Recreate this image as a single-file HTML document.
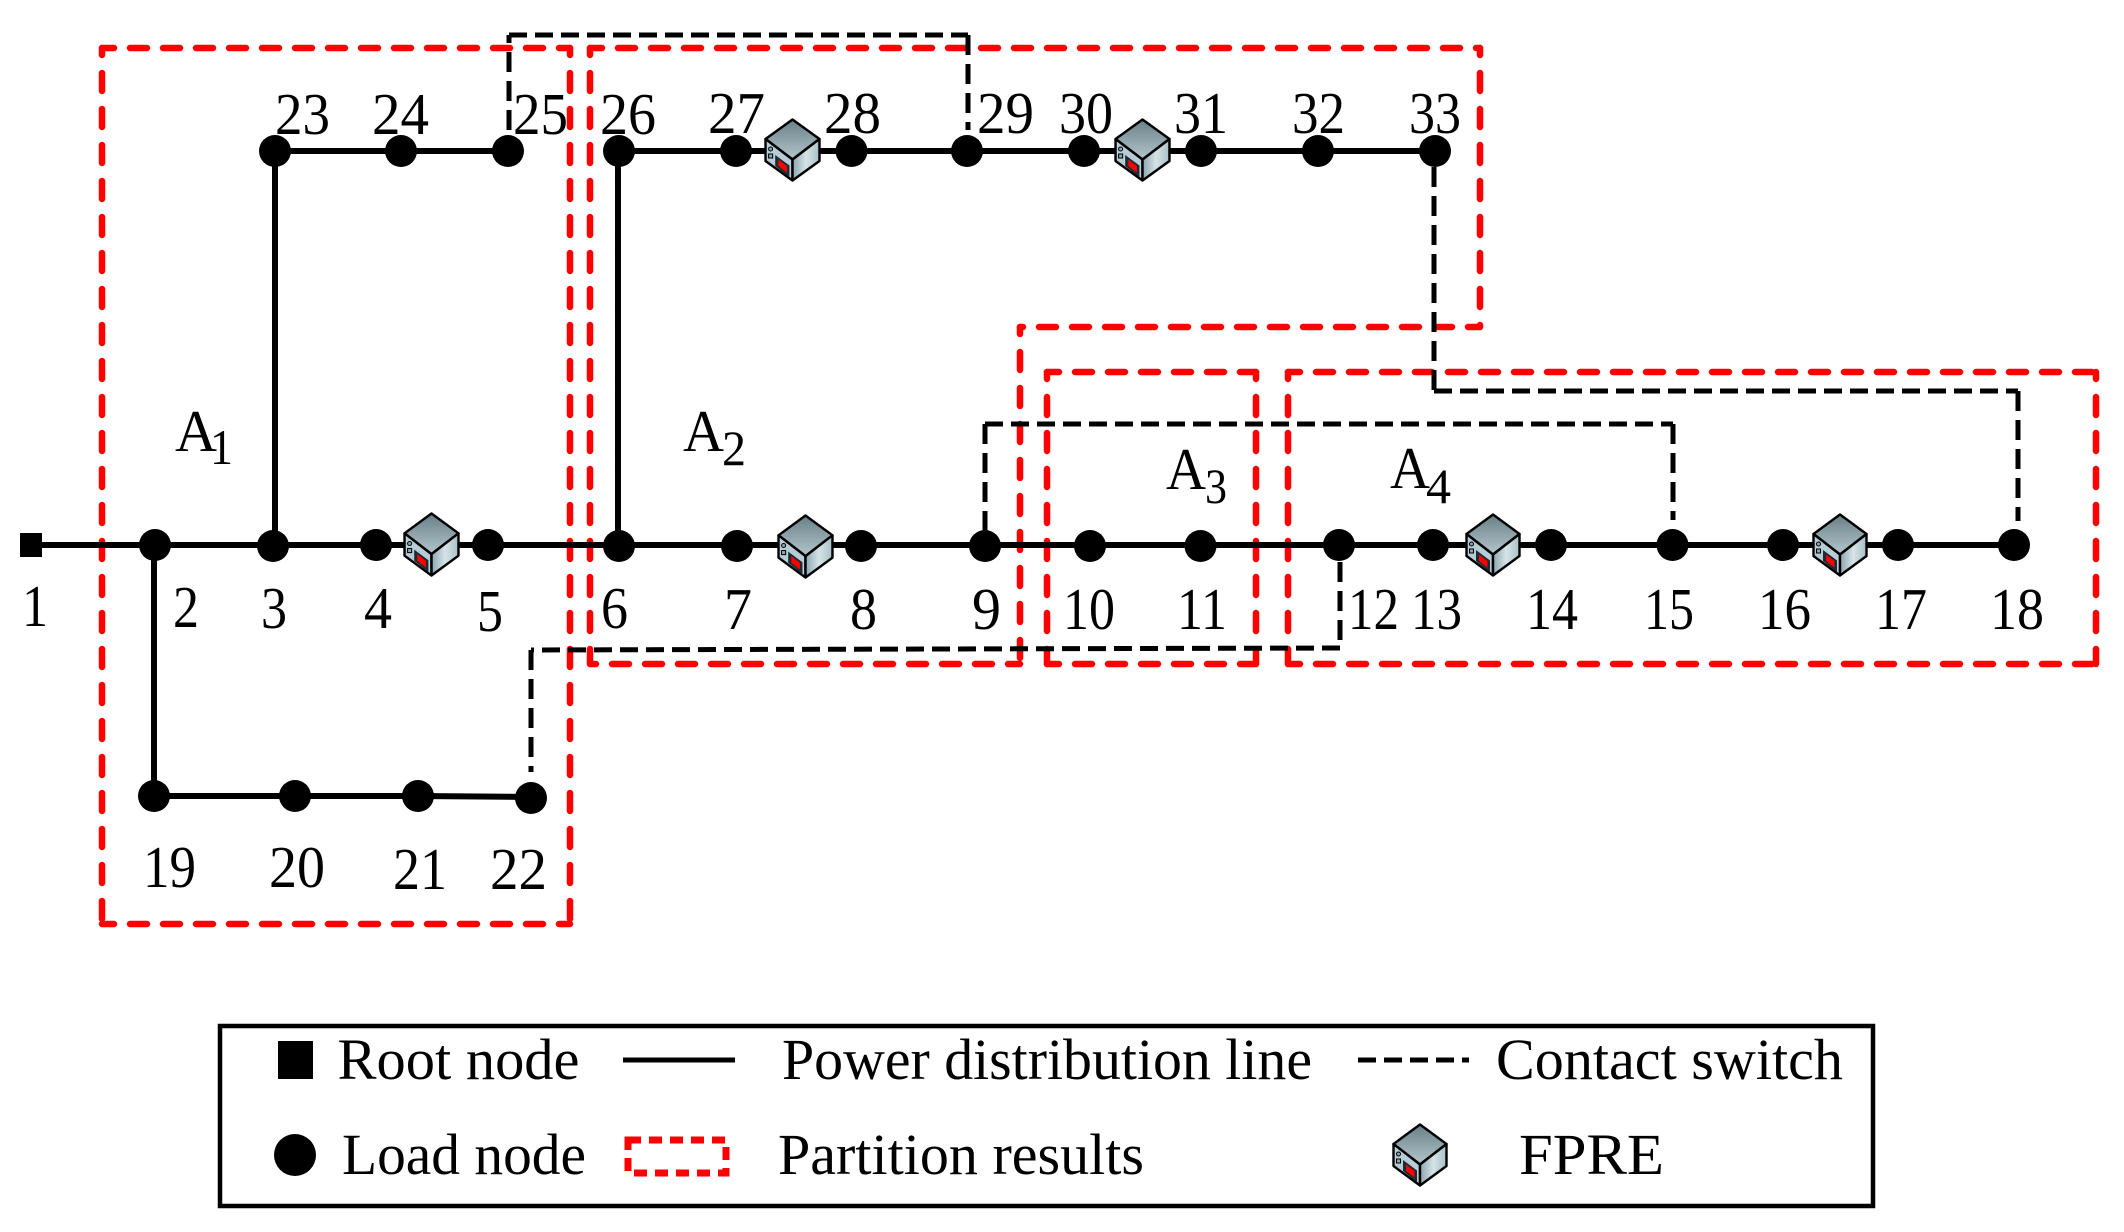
<!DOCTYPE html>
<html><head><meta charset="utf-8"><style>
html,body{margin:0;padding:0;background:#fff}
svg{display:block}
text{font-family:"Liberation Serif",serif;font-size:59px;fill:#000}
.s{font-size:50px}
.l{font-size:58px}
.r{stroke:#f00;stroke-width:6.500;fill:none;stroke-linecap:round}
.h{stroke-dasharray:17 16;stroke-dashoffset:5}
.v{stroke-dasharray:18 18;stroke-dashoffset:11}
.b{stroke:#000;stroke-width:5;fill:none;stroke-dasharray:18 8}
.bv{stroke:#000;stroke-width:5;fill:none;stroke-dasharray:20 9}
.m{stroke:#000;stroke-width:6;fill:none}
</style></head><body>
<svg width="2124" height="1232" viewBox="0 0 2124 1232" xmlns="http://www.w3.org/2000/svg">
<defs>
<linearGradient id="gt" x1="0" y1="0" x2="0" y2="1"><stop offset="0" stop-color="#687f87"/><stop offset="1" stop-color="#b4c6cc"/></linearGradient>
<linearGradient id="gr" x1="0" y1="0" x2="1" y2="0"><stop offset="0" stop-color="#8ba6b0"/><stop offset=".5" stop-color="#d6e3e6"/><stop offset="1" stop-color="#a8c0c8"/></linearGradient>
<symbol id="f" viewBox="0 0 56 64" preserveAspectRatio="none">
<path d="M28 1.500L54.500 21L28 41.500L1.500 21Z" fill="url(#gt)" stroke="#000" stroke-width="2.400" stroke-linejoin="round"/>
<path d="M1.500 21L28 41.500V62.500L1.500 43Z" fill="#b6cdd8" stroke="#000" stroke-width="2.400" stroke-linejoin="round"/>
<path d="M54.500 21L28 41.500V62.500L54.500 43Z" fill="url(#gr)" stroke="#000" stroke-width="2.400" stroke-linejoin="round"/>
<path d="M11 37L25 47.500V59L11 48Z" fill="#1d2b33"/>
<path d="M14 41.500L22.500 48V54.500L14 48Z" fill="#f00"/>
<circle cx="6.500" cy="31" r="2" fill="#8aa" stroke="#000"/>
<rect x="4.500" y="36" width="4" height="4" fill="#8aa" stroke="#000"/>
</symbol>
</defs>

<!-- red partitions -->
<g class="r">
<path class="h" d="M102 48H570"/><path class="v" d="M102 48V924"/><path class="h" d="M102 924H570"/><path class="v" d="M570 48V924"/>
<path class="h" d="M590 48H1480"/><path class="v" d="M1480 48V327"/><path class="h" d="M1480 327H1020"/><path class="v" d="M1020 327V664"/><path class="h" d="M1020 664H590"/><path class="v" d="M590 48V664"/>
<path class="h" d="M1047 372H1256"/><path class="v" d="M1047 372V664"/><path class="h" d="M1047 664H1256"/><path class="v" d="M1256 372V664"/>
<path class="h" d="M1288 372H2096"/><path class="v" d="M1288 372V664"/><path class="h" d="M1288 664H2096"/><path class="v" d="M2096 372V664"/>
</g>

<!-- contact switches -->
<path class="bv" d="M509 130V35"/><path class="b" d="M509 35H968"/><path class="bv" d="M968 35V130"/>
<path class="bv" d="M1434 167V391"/><path class="b" d="M1434 391H2018"/><path class="bv" d="M2018 391V521"/>
<path class="bv" d="M985 531V424"/><path class="b" d="M985 424H1673"/><path class="bv" d="M1673 424V520"/>
<path class="bv" d="M1340 562V648"/><path class="b" d="M1340 648L531 650"/><path class="bv" d="M531 650V772"/>

<!-- power lines -->
<path class="m" d="M31 545H2014"/>
<path class="m" d="M275 151H508"/>
<path class="m" d="M619 151H1435"/>
<path class="m" d="M275 151V545"/>
<path class="m" d="M618 151V545"/>
<path class="m" d="M154 545V796H418L531 797"/>

<!-- root -->
<rect x="20" y="533" width="22" height="24"/>

<!-- nodes -->
<g fill="#000">
<circle cx="275" cy="151" r="16"/><circle cx="401" cy="151" r="16"/><circle cx="508" cy="151" r="16"/><circle cx="619" cy="151" r="16"/>
<circle cx="736" cy="151" r="16"/><circle cx="851.500" cy="151" r="16"/><circle cx="967" cy="151" r="16"/><circle cx="1084" cy="151" r="16"/>
<circle cx="1201" cy="151" r="16"/><circle cx="1318" cy="151" r="16"/><circle cx="1435" cy="151" r="16"/>
<circle cx="155" cy="545" r="16"/><circle cx="273" cy="546" r="16"/><circle cx="376" cy="545" r="16"/><circle cx="488" cy="545" r="16"/><circle cx="619" cy="546" r="16"/>
<circle cx="737" cy="546" r="16"/><circle cx="861" cy="546" r="16"/><circle cx="985" cy="546" r="16"/><circle cx="1090" cy="546" r="16"/><circle cx="1200.500" cy="546" r="16"/>
<circle cx="1339" cy="545" r="16"/><circle cx="1433" cy="545" r="16"/><circle cx="1551" cy="545" r="16"/><circle cx="1672.500" cy="545" r="16"/><circle cx="1783" cy="545" r="16"/><circle cx="1898" cy="545" r="16"/><circle cx="2014" cy="545" r="16"/>
<circle cx="154" cy="796" r="16"/><circle cx="295" cy="796" r="16"/><circle cx="418" cy="796" r="16"/><circle cx="531" cy="798" r="16"/>
</g>

<!-- FPRE devices -->
<use href="#f" x="403" y="512" width="57" height="65"/>
<use href="#f" x="764" y="118" width="57" height="64"/>
<use href="#f" x="1114" y="118" width="57" height="64"/>
<use href="#f" x="777" y="514" width="57" height="65"/>
<use href="#f" x="1465" y="513" width="56" height="64"/>
<use href="#f" x="1812" y="513" width="56" height="64"/>
<use href="#f" x="1392" y="1123" width="56" height="64"/>

<!-- top labels -->
<text x="275" y="134" textLength="55" lengthAdjust="spacingAndGlyphs">23</text>
<text x="372" y="134" textLength="57" lengthAdjust="spacingAndGlyphs">24</text>
<text x="513" y="134" textLength="55" lengthAdjust="spacingAndGlyphs">25</text>
<text x="600" y="134" textLength="56" lengthAdjust="spacingAndGlyphs">26</text>
<text x="708" y="133" textLength="57" lengthAdjust="spacingAndGlyphs">27</text>
<text x="824" y="133" textLength="57" lengthAdjust="spacingAndGlyphs">28</text>
<text x="977" y="133" textLength="57" lengthAdjust="spacingAndGlyphs">29</text>
<text x="1059" y="133" textLength="54" lengthAdjust="spacingAndGlyphs">30</text>
<text x="1174" y="133" textLength="54" lengthAdjust="spacingAndGlyphs">31</text>
<text x="1292" y="133" textLength="53" lengthAdjust="spacingAndGlyphs">32</text>
<text x="1409" y="133" textLength="52" lengthAdjust="spacingAndGlyphs">33</text>

<!-- area labels -->
<text x="175" y="451" textLength="42" lengthAdjust="spacingAndGlyphs">A</text><text class="s" x="210" y="464" textLength="23" lengthAdjust="spacingAndGlyphs">1</text>
<text x="683" y="451" textLength="41" lengthAdjust="spacingAndGlyphs">A</text><text class="s" x="722" y="465" textLength="24" lengthAdjust="spacingAndGlyphs">2</text>
<text x="1166" y="489" textLength="40" lengthAdjust="spacingAndGlyphs">A</text><text class="s" x="1205" y="503" textLength="22" lengthAdjust="spacingAndGlyphs">3</text>
<text x="1390" y="488" textLength="40" lengthAdjust="spacingAndGlyphs">A</text><text class="s" x="1426" y="503" textLength="25" lengthAdjust="spacingAndGlyphs">4</text>

<!-- bottom labels -->
<text x="22" y="626" textLength="26" lengthAdjust="spacingAndGlyphs">1</text>
<text x="173" y="627" textLength="26" lengthAdjust="spacingAndGlyphs">2</text>
<text x="261" y="628" textLength="26" lengthAdjust="spacingAndGlyphs">3</text>
<text x="364" y="628" textLength="28" lengthAdjust="spacingAndGlyphs">4</text>
<text x="477" y="631" textLength="26" lengthAdjust="spacingAndGlyphs">5</text>
<text x="601" y="628" textLength="27" lengthAdjust="spacingAndGlyphs">6</text>
<text x="724" y="629" textLength="28" lengthAdjust="spacingAndGlyphs">7</text>
<text x="850" y="629" textLength="27" lengthAdjust="spacingAndGlyphs">8</text>
<text x="972" y="629" textLength="29" lengthAdjust="spacingAndGlyphs">9</text>
<text x="1063" y="629" textLength="52" lengthAdjust="spacingAndGlyphs">10</text>
<text x="1177" y="629" textLength="50" lengthAdjust="spacingAndGlyphs">11</text>
<text x="1348" y="629" textLength="51" lengthAdjust="spacingAndGlyphs">12</text>
<text x="1411" y="629" textLength="51" lengthAdjust="spacingAndGlyphs">13</text>
<text x="1526" y="629" textLength="52" lengthAdjust="spacingAndGlyphs">14</text>
<text x="1644" y="629" textLength="50" lengthAdjust="spacingAndGlyphs">15</text>
<text x="1758" y="629" textLength="53" lengthAdjust="spacingAndGlyphs">16</text>
<text x="1875" y="629" textLength="52" lengthAdjust="spacingAndGlyphs">17</text>
<text x="1990" y="629" textLength="54" lengthAdjust="spacingAndGlyphs">18</text>
<text x="143" y="887" textLength="53" lengthAdjust="spacingAndGlyphs">19</text>
<text x="269" y="887" textLength="56" lengthAdjust="spacingAndGlyphs">20</text>
<text x="393" y="889" textLength="54" lengthAdjust="spacingAndGlyphs">21</text>
<text x="490" y="889" textLength="57" lengthAdjust="spacingAndGlyphs">22</text>

<!-- legend -->
<path d="M220 1026H1873V1206H220Z" fill="none" stroke="#000" stroke-width="4.500"/>
<rect x="278" y="1041" width="35" height="38"/>
<text class="l" x="337.500" y="1079" textLength="242" lengthAdjust="spacingAndGlyphs">Root node</text>
<path d="M623 1060H735" stroke="#000" stroke-width="5"/>
<text class="l" x="782" y="1079" textLength="530" lengthAdjust="spacingAndGlyphs">Power distribution line</text>
<path d="M1358 1060H1469" stroke="#000" stroke-width="5" stroke-dasharray="18 8"/>
<text class="l" x="1496" y="1079" textLength="347" lengthAdjust="spacingAndGlyphs">Contact switch</text>
<circle cx="295" cy="1155" r="21"/>
<text class="l" x="342" y="1174" textLength="244" lengthAdjust="spacingAndGlyphs">Load node</text>
<path d="M628 1140H726V1173H628Z" fill="none" stroke="#f00" stroke-width="7" stroke-dasharray="13 8"/>
<text class="l" x="778" y="1174" textLength="366" lengthAdjust="spacingAndGlyphs">Partition results</text>
<text class="l" x="1519" y="1174" textLength="145" lengthAdjust="spacingAndGlyphs">FPRE</text>
</svg>
</body></html>
